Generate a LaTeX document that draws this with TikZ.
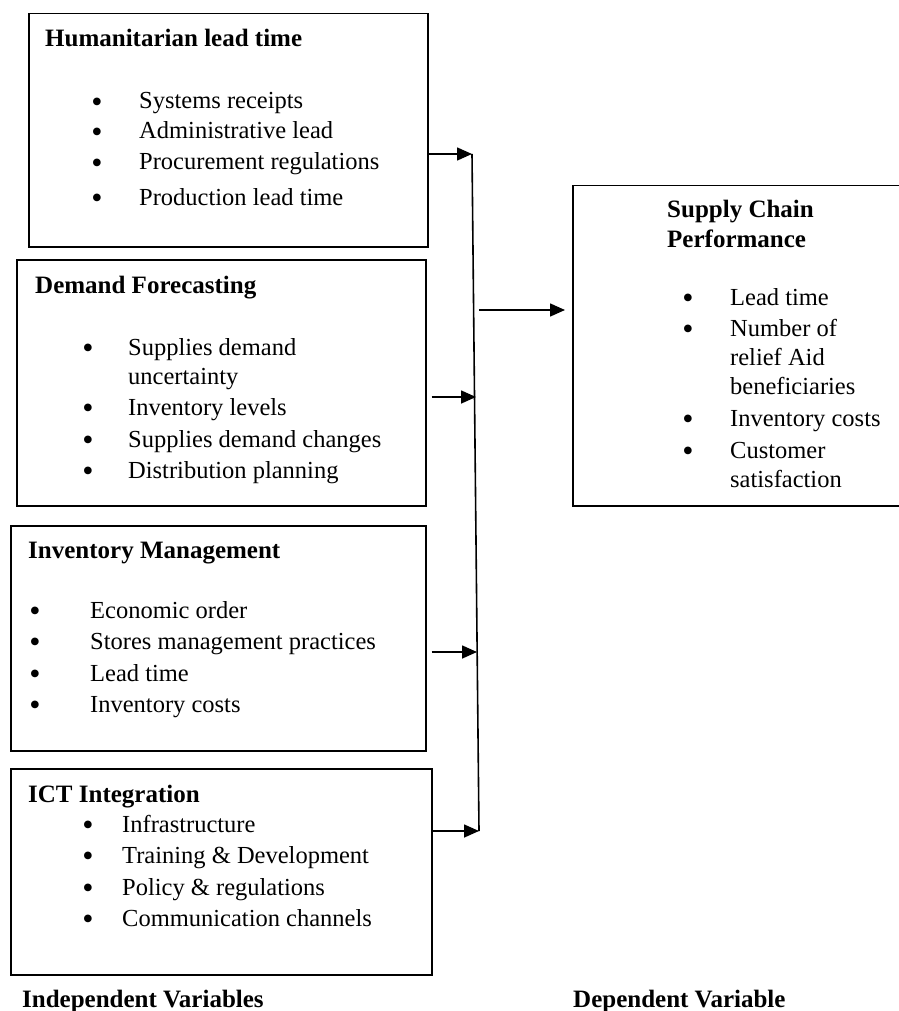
\documentclass[tikz,border=0pt]{standalone}
\usepackage{fontspec}
\setmainfont{Liberation Serif}
\usepackage{tikz}
\usetikzlibrary{arrows.meta, positioning, calc}
\tikzstyle{varbox} = [rectangle, draw=black, line width=1.5pt, anchor=north west, inner sep=0pt]
\tikzstyle{head} = [anchor=base west, inner sep=0pt, font=\fontsize{25}{30}\selectfont\bfseries]
\tikzstyle{itemtext} = [anchor=base west, inner sep=0pt, font=\fontsize{24.5}{30}\selectfont]
\tikzstyle{bul} = [anchor=center, inner sep=0pt, yshift=4pt, font=\fontsize{32}{32}\selectfont]
\tikzstyle{arrow} = [line width=1.6pt, -{Triangle[length=15pt,width=13pt]}]

\begin{document}
\begin{tikzpicture}[x=1pt, y=-1pt]
\useasboundingbox (0,0) rectangle (898,1011);

% boxes
\node (hlt) [varbox, minimum width=399pt, minimum height=233pt] at (28,13) {};
\node (dmf) [varbox, minimum width=409pt, minimum height=246pt] at (16,259) {};
\node (inv) [varbox, minimum width=415pt, minimum height=225pt] at (10,525) {};
\node (ict) [varbox, minimum width=421pt, minimum height=206pt] at (10,768) {};
\node (scp) [varbox, minimum width=332pt, minimum height=320pt] at (572,185) {};

% humanitarian lead time
\node (hlt0) [head] at (45,47) {Humanitarian lead time};
\node (hltb1) [bul] at (97,109) {\textbullet};
\node (hlt1) [itemtext] at (139,109) {Systems receipts};
\node (hltb2) [bul] at (97,139) {\textbullet};
\node (hlt2) [itemtext] at (139,139) {Administrative lead};
\node (hltb3) [bul] at (97,170) {\textbullet};
\node (hlt3) [itemtext] at (139,170) {Procurement regulations};
\node (hltb4) [bul] at (97,205) {\textbullet};
\node (hlt4) [itemtext] at (139,205) {Production lead time};

% demand forecasting
\node (dmf0) [head] at (35,293) {Demand Forecasting};
\node (dmfb1) [bul] at (88,355) {\textbullet};
\node (dmf1) [itemtext] at (128,355) {Supplies demand};
\node (dmf1b) [itemtext] at (128,384) {uncertainty};
\node (dmfb2) [bul] at (88,415) {\textbullet};
\node (dmf2) [itemtext] at (128,415) {Inventory levels};
\node (dmfb3) [bul] at (88,447) {\textbullet};
\node (dmf3) [itemtext] at (128,447) {Supplies demand changes};
\node (dmfb4) [bul] at (88,478) {\textbullet};
\node (dmf4) [itemtext] at (128,478) {Distribution planning};

% inventory management
\node (inv0) [head] at (28,558) {Inventory Management};
\node (invb1) [bul] at (35,618) {\textbullet};
\node (inv1) [itemtext] at (90,618) {Economic order};
\node (invb2) [bul] at (35,649) {\textbullet};
\node (inv2) [itemtext] at (90,649) {Stores management practices};
\node (invb3) [bul] at (35,681) {\textbullet};
\node (inv3) [itemtext] at (90,681) {Lead time};
\node (invb4) [bul] at (35,712) {\textbullet};
\node (inv4) [itemtext] at (90,712) {Inventory costs};

% ict integration
\node (ict0) [head] at (28,802) {ICT Integration};
\node (ictb1) [bul] at (88,832) {\textbullet};
\node (ict1) [itemtext] at (122,832) {Infrastructure};
\node (ictb2) [bul] at (88,863) {\textbullet};
\node (ict2) [itemtext] at (122,863) {Training \& Development};
\node (ictb3) [bul] at (88,895) {\textbullet};
\node (ict3) [itemtext] at (122,895) {Policy \& regulations};
\node (ictb4) [bul] at (88,926) {\textbullet};
\node (ict4) [itemtext] at (122,926) {Communication channels};

% supply chain performance
\node (scp0) [head] at (667,217) {Supply Chain};
\node (scp0b) [head] at (667,247) {Performance};
\node (scpb1) [bul] at (688,305) {\textbullet};
\node (scp1) [itemtext] at (730,305) {Lead time};
\node (scpb2) [bul] at (688,336) {\textbullet};
\node (scp2) [itemtext] at (730,336) {Number of};
\node (scp2b) [itemtext] at (730,365) {relief Aid};
\node (scp2c) [itemtext] at (730,394) {beneficiaries};
\node (scpb3) [bul] at (688,426) {\textbullet};
\node (scp3) [itemtext] at (730,426) {Inventory costs};
\node (scpb4) [bul] at (688,458) {\textbullet};
\node (scp4) [itemtext] at (730,458) {Customer};
\node (scp4b) [itemtext] at (730,487) {satisfaction};

% captions
\node (indep) [head] at (22,1007) {Independent Variables};
\node (dep) [head] at (573,1007) {Dependent Variable};

% connectors
\coordinate (j1) at (472,154);
\coordinate (j2) at (476,397);
\coordinate (j3) at (477,652);
\coordinate (j4) at (479,831);
\coordinate (jm) at (479,310);
\draw [line width=1.6pt] (j1) -- (j4);
\draw [arrow] (hlt.east |- j1) -- (j1);
\draw [arrow, shorten <=5pt] (dmf.east |- j2) -- (j2);
\draw [arrow, shorten <=5pt] (inv.east |- j3) -- (j3);
\draw [arrow] (ict.east |- j4) -- (j4);
\draw [arrow, shorten >=7pt] (jm) -- (scp.west |- jm);
\end{tikzpicture}
\end{document}
